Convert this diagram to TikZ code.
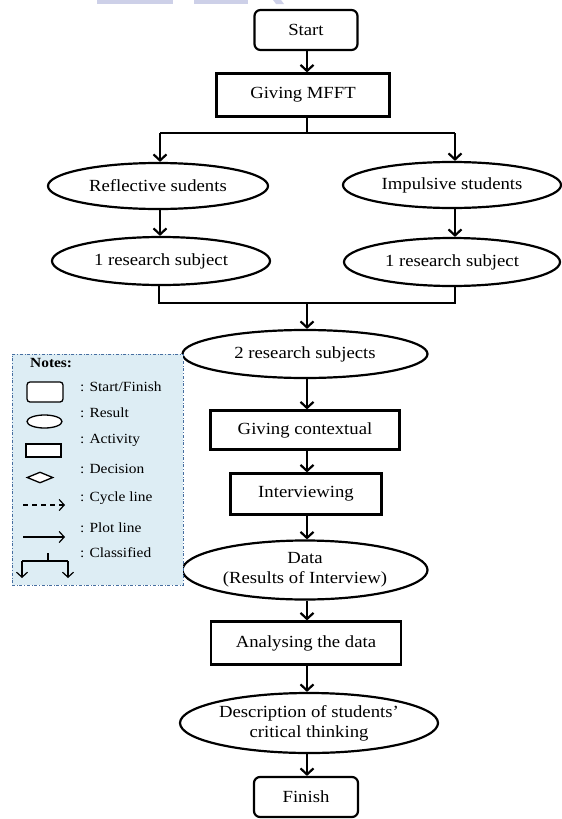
\documentclass[tikz,border=0pt]{standalone}
\usepackage{fontspec}
\setmainfont{Liberation Serif}[FakeStretch=1.1]
\usetikzlibrary{shapes.geometric,arrows.meta}
\definecolor{notefill}{RGB}{221,237,244}
\definecolor{notedraw}{RGB}{70,110,160}
\definecolor{ghost}{RGB}{205,208,232}
\newcommand{\mainfont}{\fontsize{17}{20}\selectfont}
\newcommand{\notefont}{\fontsize{14}{16}\selectfont}
\tikzset{
  base/.style={draw, line width=2.2pt, font=\mainfont, align=center, inner sep=0pt, fill=white},
  startbox/.style={base, rectangle, rounded corners=6pt},
  actbox/.style={base, rectangle},
  resultell/.style={base, ellipse},
  arr/.style={line width=2.2pt, -{Straight Barb[length=6pt,width=13pt,line width=2.2pt]}},
  ln/.style={line width=2.2pt},
  lgshape/.style={draw, line width=1.3pt, fill=white, inner sep=0pt},
  lgtext/.style={anchor=west, font=\notefont, inner sep=0pt},
  lgarr/.style={line width=1.2pt, -{Straight Barb[length=5pt,width=11pt,line width=1.2pt]}}
}
\begin{document}
\begin{tikzpicture}[x=1pt,y=-1pt]
\useasboundingbox (0,0) rectangle (562,819);
% faint page remnants at top
\fill[ghost] (97,0) rectangle (173,4);
\fill[ghost] (194,0) rectangle (248,4);
\fill[ghost] (273,0) -- (281,0) -- (284,4) -- (276,4) -- cycle;

% main flow
\node[startbox, minimum width=103pt, minimum height=40pt] (start) at (306,30) {Start};
\node[actbox, minimum width=173pt, minimum height=43pt] (mfft) at (303,95) {Giving MFFT};
\node[resultell, minimum width=220pt, minimum height=46pt] (refl) at (158,186) {Reflective sudents};
\node[resultell, minimum width=218pt, minimum height=46pt] (imp) at (452,185) {Impulsive students};
\node[resultell, minimum width=218pt, minimum height=48pt] (ra) at (161,261) {1 research subject};
\node[resultell, minimum width=216pt, minimum height=48pt] (rb) at (452,262) {1 research subject};
\node[resultell, minimum width=245pt, minimum height=48pt] (two) at (305,354) {2 research subjects};
\node[actbox, minimum width=189pt, minimum height=39pt] (ctx) at (305,430) {Giving contextual};
\node[actbox, minimum width=151pt, minimum height=41pt] (intv) at (306,494) {Interviewing};
\node[resultell, minimum width=245pt, minimum height=59pt] (data) at (305,570) {Data\\(Results of Interview)};
\node[actbox, minimum width=190pt, minimum height=43pt] (anal) at (306,643) {Analysing the data};
\node[resultell, minimum width=258pt, minimum height=60pt] (desc) at (309,723) {Description of students'\\critical thinking};
\node[startbox, minimum width=104pt, minimum height=40pt] (fin) at (306,797) {Finish};

\coordinate (ax) at (307,0);
\coordinate (splitM) at (307,133);
\coordinate (splitL) at (160,133);
\coordinate (splitR) at (455,133);
\coordinate (joinL) at (159,303);
\coordinate (joinR) at (455,303);
\coordinate (joinM) at (307,303);

\draw[arr] (ax |- start.south) -- (ax |- mfft.north);
\draw[ln] (ax |- mfft.south) -- (splitM);
\draw[ln] (splitL) -- (splitR);
\draw[arr] (splitL) -- (splitL |- refl.north);
\draw[arr] (splitR) -- (splitR |- imp.north);
\draw[arr] (splitL |- refl.south) -- (splitL |- ra.north);
\draw[arr] (splitR |- imp.south) -- (splitR |- rb.north);
\draw[ln] (joinL |- ra.south) -- (joinL) -- (joinR) -- (joinR |- rb.south);
\draw[arr] (joinM) -- (joinM |- two.north);
\draw[arr] (ax |- two.south) -- (ax |- ctx.north);
\draw[arr] (ax |- ctx.south) -- (ax |- intv.north);
\draw[arr] (ax |- intv.south) -- (ax |- data.north);
\draw[arr] (ax |- data.south) -- (ax |- anal.north);
\draw[arr] (ax |- anal.south) -- (ax |- desc.north);
\draw[arr] (ax |- desc.south) -- (ax |- fin.north);

% notes legend
\node[draw=notedraw, fill=notefill, dash dot, line width=0.9pt, minimum width=171pt, minimum height=231pt, inner sep=0pt] (notes) at (97.5,469.5) {};
\node[anchor=west, font=\notefont\bfseries, inner sep=0pt] (ntitle) at (30,363) {Notes:};
\node[lgshape, rounded corners=3pt, minimum width=36pt, minimum height=20pt] (lg1) at (45,392) {};
\node[lgtext] (lt1) at (80,387) {: Start/Finish};
\node[lgshape, ellipse, minimum width=35pt, minimum height=13pt] (lg2) at (44.5,421.5) {};
\node[lgtext] (lt2) at (80,413) {: Result};
\node[lgshape, minimum width=35pt, minimum height=13pt] (lg3) at (43.5,450.5) {};
\node[lgtext] (lt3) at (80,440) {: Activity};
\node[lgshape, diamond, aspect=2.4, minimum width=26pt, minimum height=11pt] (lg4) at (40,477.5) {};
\node[lgtext] (lt4) at (80,469) {: Decision};
\coordinate (c1) at (23,505);
\coordinate (c2) at (65,505);
\draw[lgarr, dash pattern=on 5pt off 4pt] (c1) -- (c2);
\node[lgtext] (lt5) at (80,498) {: Cycle line};
\coordinate (p1) at (23,537);
\coordinate (p2) at (65,537);
\draw[lgarr] (p1) -- (p2);
\node[lgtext] (lt6) at (80,528) {: Plot line};
\coordinate (k0) at (48,553);
\coordinate (kM) at (48,561);
\coordinate (kL) at (22,561);
\coordinate (kR) at (68,561);
\coordinate (kLb) at (22,578);
\coordinate (kRb) at (68,578);
\draw[line width=1.2pt] (k0) -- (kM);
\draw[line width=1.2pt] (kL) -- (kR);
\draw[lgarr] (kL) -- (kLb);
\draw[lgarr] (kR) -- (kRb);
\node[lgtext] (lt7) at (80,553) {: Classified};
\end{tikzpicture}
\end{document}
